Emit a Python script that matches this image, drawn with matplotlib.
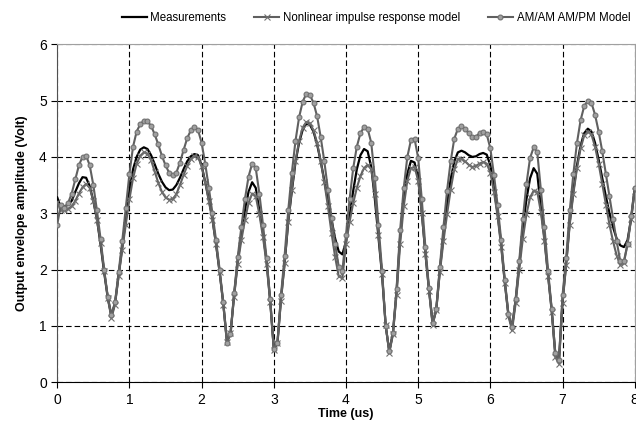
import numpy as np
import matplotlib
matplotlib.use("Agg")
import matplotlib.pyplot as plt

plt.rcParams['font.family'] = ['Liberation Sans', 'DejaVu Sans']

# time axis, 0.05 us sampling
t = np.round(np.arange(0, 161) * 0.05, 2)

meas = [3.28, 3.10, 3.12, 3.15, 3.22, 3.38, 3.53, 3.64, 3.63, 3.48,
        3.22, 2.90, 2.45, 1.95, 1.50, 1.18, 1.40, 1.90, 2.40, 2.90,
        3.40, 3.78, 4.00, 4.13, 4.17, 4.14, 4.03, 3.87, 3.70, 3.56,
        3.46, 3.41, 3.42, 3.50, 3.63, 3.78, 3.92, 4.01, 4.05, 4.03,
        3.85, 3.55, 3.25, 2.90, 2.45, 1.95, 1.40, 0.75, 0.85, 1.55,
        2.15, 2.62, 3.05, 3.38, 3.55, 3.45, 3.05, 2.65, 2.15, 1.45,
        0.60, 0.68, 1.50, 2.12, 2.85, 3.40, 3.90, 4.25, 4.48, 4.59,
        4.57, 4.45, 4.22, 3.92, 3.58, 3.22, 2.88, 2.55, 2.32, 2.27,
        2.50, 2.95, 3.40, 3.78, 4.03, 4.14, 4.10, 3.82, 3.25, 2.58,
        1.90, 1.00, 0.55, 0.87, 1.60, 2.58, 3.25, 3.70, 3.93, 3.90,
        3.62, 3.02, 2.29, 1.65, 1.05, 1.28, 1.99, 2.60, 3.15, 3.60,
        3.92, 4.08, 4.11, 4.08, 4.03, 4.00, 4.01, 4.05, 4.07, 4.04,
        3.85, 3.45, 3.00, 2.45, 1.78, 1.20, 0.98, 1.45, 2.08, 2.75,
        3.25, 3.62, 3.80, 3.70, 3.10, 2.55, 1.90, 1.28, 0.50, 0.38,
        1.45, 2.11, 2.85, 3.40, 3.85, 4.20, 4.42, 4.50, 4.45, 4.25,
        3.95, 3.62, 3.30, 3.00, 2.75, 2.55, 2.43, 2.40, 2.52, 2.90,
        3.45]

nonlin = [3.20, 3.05, 3.05, 3.08, 3.12, 3.22, 3.35, 3.46, 3.52, 3.45,
          3.22, 2.88, 2.48, 1.98, 1.50, 1.14, 1.38, 1.88, 2.35, 2.80,
          3.25, 3.62, 3.88, 4.02, 4.08, 4.06, 3.94, 3.74, 3.54, 3.38,
          3.28, 3.24, 3.25, 3.34, 3.50, 3.68, 3.84, 3.96, 4.02, 4.00,
          3.84, 3.55, 3.22, 2.88, 2.45, 1.95, 1.38, 0.72, 0.88, 1.52,
          2.10, 2.52, 2.88, 3.18, 3.35, 3.30, 2.98, 2.58, 2.10, 1.42,
          0.58, 0.70, 1.45, 2.12, 2.85, 3.42, 3.92, 4.28, 4.52, 4.62,
          4.60, 4.47, 4.25, 3.92, 3.55, 3.12, 2.65, 2.22, 1.88, 1.85,
          2.45, 2.85, 3.18, 3.45, 3.66, 3.80, 3.86, 3.78, 3.35, 2.62,
          1.92, 1.02, 0.52, 0.85, 1.55, 2.45, 3.12, 3.58, 3.80, 3.82,
          3.58, 3.00, 2.28, 1.62, 1.02, 1.28, 1.95, 2.50, 2.98, 3.42,
          3.78, 3.96, 3.97, 3.92, 3.86, 3.82, 3.84, 3.88, 3.91, 3.88,
          3.72, 3.38, 2.95, 2.40, 1.76, 1.18, 0.92, 1.40, 2.00, 2.55,
          2.98, 3.28, 3.40, 3.38, 3.02, 2.50, 1.88, 1.25, 0.45, 0.33,
          1.40, 2.08, 2.80, 3.35, 3.80, 4.15, 4.38, 4.45, 4.40, 4.18,
          3.88, 3.52, 3.15, 2.80, 2.50, 2.25, 2.08, 2.12, 2.45, 2.90,
          3.40]

amam = [2.80, 3.15, 3.10, 3.18, 3.35, 3.60, 3.85, 4.00, 4.02, 3.85,
        3.50, 3.05, 2.55, 2.00, 1.52, 1.20, 1.42, 1.95, 2.50, 3.10,
        3.70, 4.18, 4.45, 4.58, 4.64, 4.63, 4.55, 4.40, 4.22, 4.02,
        3.85, 3.72, 3.67, 3.72, 3.90, 4.12, 4.33, 4.47, 4.53, 4.48,
        4.25, 3.88, 3.45, 3.00, 2.52, 2.00, 1.42, 0.70, 0.85, 1.58,
        2.22, 2.75, 3.25, 3.65, 3.88, 3.80, 3.35, 2.80, 2.20, 1.48,
        0.60, 0.70, 1.55, 2.25, 3.05, 3.72, 4.28, 4.70, 4.98, 5.12,
        5.10, 4.96, 4.72, 4.35, 3.92, 3.42, 2.92, 2.45, 2.05, 1.98,
        2.62, 3.25, 3.80, 4.18, 4.42, 4.53, 4.50, 4.25, 3.62, 2.80,
        1.98, 1.00, 0.55, 0.88, 1.65, 2.70, 3.45, 4.00, 4.30, 4.32,
        3.98, 3.25, 2.40, 1.68, 1.05, 1.30, 2.05, 2.75, 3.40, 3.92,
        4.32, 4.50, 4.54, 4.50, 4.42, 4.36, 4.36, 4.42, 4.45, 4.40,
        4.15, 3.68, 3.15, 2.52, 1.82, 1.22, 0.98, 1.48, 2.15, 2.90,
        3.52, 3.98, 4.17, 4.08, 3.42, 2.75, 1.98, 1.30, 0.52, 0.40,
        1.55, 2.20, 3.05, 3.70, 4.25, 4.65, 4.90, 5.00, 4.96, 4.75,
        4.45, 4.10, 3.70, 3.30, 2.90, 2.50, 2.15, 2.15, 2.45, 2.95,
        3.45]

fig = plt.figure(figsize=(6.36, 4.33), dpi=100)
ax = fig.add_axes([0.090, 0.117, 0.908, 0.781])

ax.plot(t, meas, color='black', lw=1.6, label='Measurements', zorder=3)
ax.plot(t, nonlin, color='#606060', lw=1.5, marker='x', ms=4, mew=0.8,
        mec='#707070', label='Nonlinear impulse response model', zorder=4)
ax.plot(t, amam, color='#606060', lw=1.5, marker='o', ms=3.5, mew=0.8,
        mfc='#a0a0a0', mec='#707070', label='AM/AM AM/PM Model', zorder=5)

ax.set_xlim(0, 8)
ax.set_ylim(0, 6)
ax.set_xticks(range(0, 9))
ax.set_yticks(range(0, 7))
ax.grid(True, color='black', lw=0.8, linestyle=(0, (5, 2.7)))
ax.set_axisbelow(True)

ax.spines['top'].set_color('#a0a0a0')
ax.spines['right'].set_color('#a0a0a0')
ax.spines['left'].set_color('#505050')
ax.spines['bottom'].set_color('black')
ax.tick_params(direction='out', length=4, width=0.8, labelsize=10, colors='black')

ax.set_xlabel('Time (us)', fontsize=9, fontweight='bold', labelpad=1)
ax.set_ylabel('Output envelope amplitude (Volt)', fontsize=9, fontweight='bold', labelpad=8)

fig.legend(loc='upper center', bbox_to_anchor=(0.591, 0.99), ncol=3, frameon=False,
           fontsize=8.3, handlelength=2.2, handletextpad=0.3, columnspacing=2.4,
           numpoints=1, borderaxespad=0.3)

fig.savefig('out.png', dpi=100)
